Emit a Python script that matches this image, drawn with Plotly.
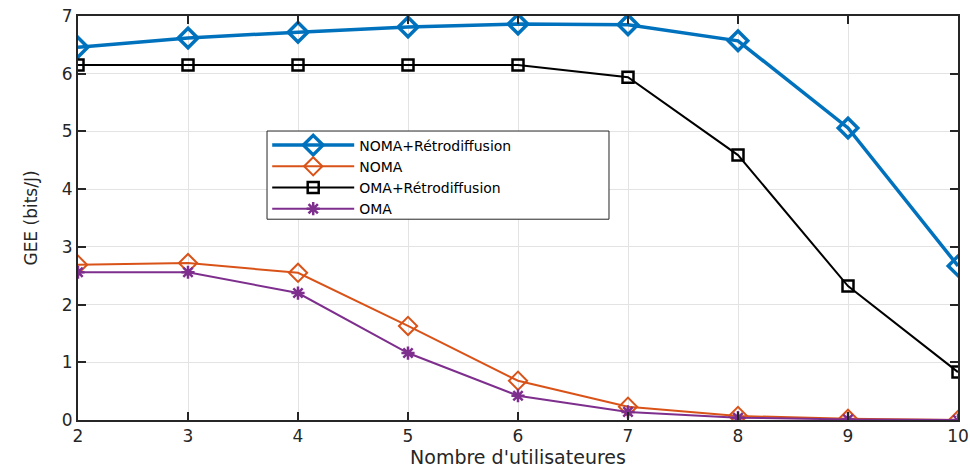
import plotly.graph_objects as go

users = [2, 3, 4, 5, 6, 7, 8, 9, 10]
noma_retro = [6.46, 6.62, 6.72, 6.81, 6.86, 6.85, 6.57, 5.06, 2.67]
noma = [2.69, 2.72, 2.55, 1.63, 0.68, 0.23, 0.07, 0.02, 0.0]
oma_retro = [6.15, 6.15, 6.15, 6.15, 6.15, 5.94, 4.59, 2.32, 0.83]
oma = [2.56, 2.56, 2.20, 1.16, 0.42, 0.14, 0.04, 0.01, 0.0]

FONT = "DejaVu Sans, Liberation Sans, Arial"

fig = go.Figure()
fig.add_trace(go.Scatter(x=users, y=noma_retro, name="NOMA+Rétrodiffusion", mode="lines+markers",
                         line=dict(color="#0072BD", width=3.5),
                         marker=dict(symbol="diamond-open", size=15, color="#0072BD", line=dict(width=3.5))))
fig.add_trace(go.Scatter(x=users, y=noma, name="NOMA", mode="lines+markers",
                         line=dict(color="#D95319", width=2),
                         marker=dict(symbol="diamond-open", size=14, color="#D95319", line=dict(width=2))))
fig.add_trace(go.Scatter(x=users, y=oma_retro, name="OMA+Rétrodiffusion", mode="lines+markers",
                         line=dict(color="#000000", width=2),
                         marker=dict(symbol="square-open", size=11, color="#000000", line=dict(width=2.5))))
fig.add_trace(go.Scatter(x=users, y=oma, name="OMA", mode="lines+markers",
                         line=dict(color="#7E2F8E", width=2),
                         marker=dict(symbol="asterisk-open", size=11, color="#7E2F8E", line=dict(width=2.5, color="#7E2F8E"))))

axis_common = dict(showline=True, linecolor="#262626", linewidth=2, mirror="ticks",
                   ticks="inside", ticklen=8, tickwidth=1.5, tickcolor="#262626",
                   showgrid=True, gridcolor="#e3e3e3", gridwidth=1, zeroline=False, automargin=False,
                   tickfont=dict(family=FONT, size=17, color="#262626"))
fig.update_xaxes(range=[2, 10], tickvals=users, title=dict(text="Nombre d'utilisateures", standoff=6,
                 font=dict(family=FONT, size=19, color="#262626")), **axis_common)
fig.update_yaxes(range=[0, 7], tickvals=[0, 1, 2, 3, 4, 5, 6, 7], title=dict(text="GEE (bits/J)", standoff=20,
                 font=dict(family=FONT, size=17, color="#262626")), **axis_common)

# legend frame drawn as a rectangle behind the (transparent) legend
fig.add_shape(type="rect", xref="paper", yref="paper", x0=0.2148, x1=0.6034, y0=0.497, y1=0.7153,
              line=dict(color="#262626", width=1), fillcolor="white", layer="above")

fig.update_layout(width=970, height=468, margin=dict(l=78, r=12, t=16, b=48, autoexpand=False),
                  plot_bgcolor="white", paper_bgcolor="white",
                  legend=dict(x=0.215, y=0.719, xanchor="left", yanchor="top",
                              bgcolor="rgba(0,0,0,0)", borderwidth=0,
                              font=dict(family=FONT, size=14, color="#000"),
                              tracegroupgap=0, itemwidth=82),
                  showlegend=True)
fig.write_html("out.html", config=dict(displayModeBar=False),
               post_script="document.body.style.margin='0';document.body.style.overflow='hidden';")
